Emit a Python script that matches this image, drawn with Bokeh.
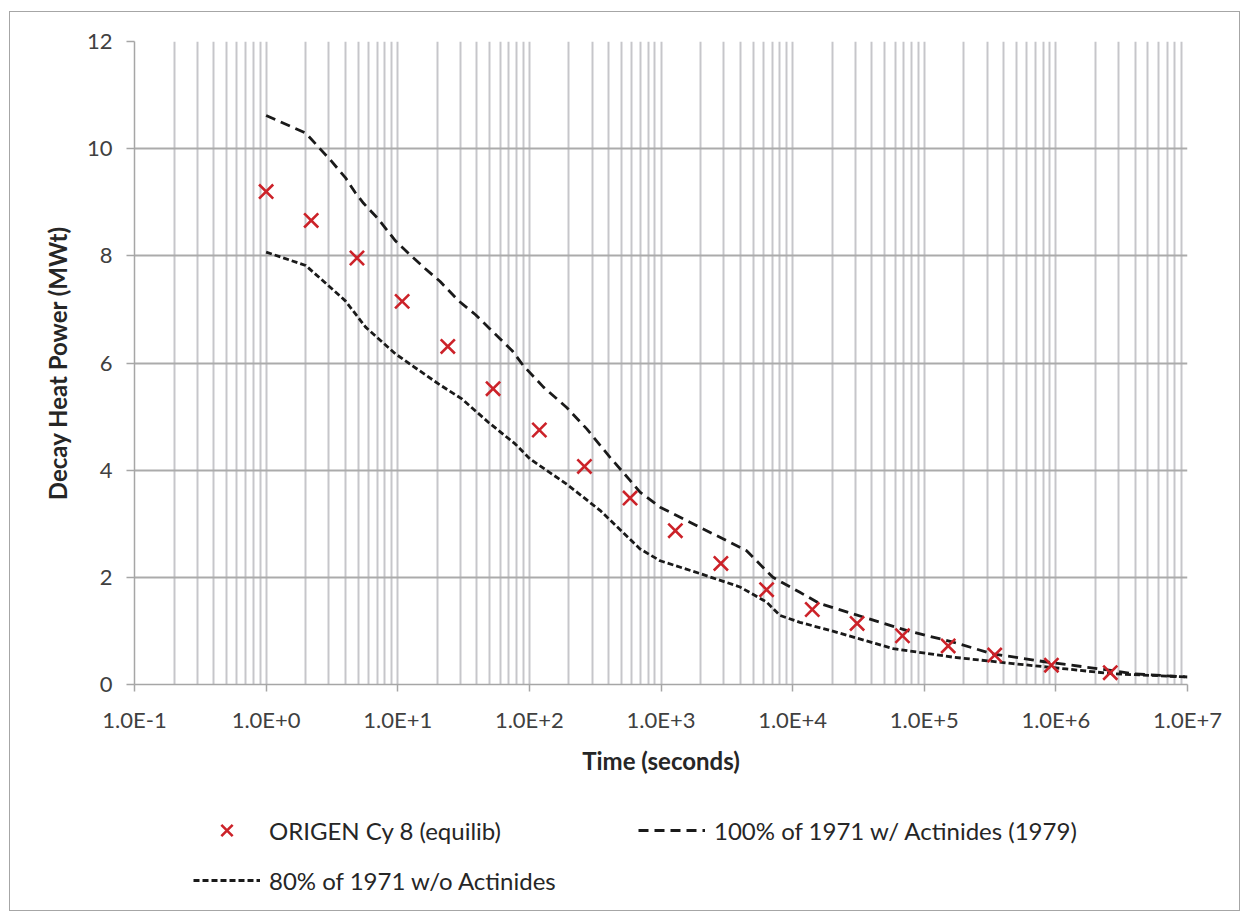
from bokeh.plotting import figure
from bokeh.layouts import column
from bokeh.models import (FixedTicker, CustomJSTickFormatter, Legend, LegendItem)
from bokeh.embed import file_html
from bokeh.resources import INLINE

# ---------------- data ----------------
origen_t = [1.0, 2.2, 4.9, 10.8, 24, 53, 119, 262, 582, 1285, 2850, 6340,
            14100, 30900, 68300, 152000, 343000, 925000, 2590000]
origen_p = [9.20, 8.66, 7.96, 7.15, 6.31, 5.52, 4.75, 4.07, 3.48, 2.87, 2.26,
            1.77, 1.40, 1.14, 0.91, 0.72, 0.55, 0.36, 0.22]

full_t = [1, 2, 2.5, 3.1, 4, 4.75, 5.5, 7.1, 9.6, 12.4, 16.2, 21, 29, 39, 50,
          74, 90, 128, 192, 273, 410, 582, 693, 984, 1570, 2490, 4450, 7080,
          11350, 16100, 34300, 73200, 165500, 333000, 847000, 2710000,
          3830000, 10000000]
full_p = [10.62, 10.29, 10.03, 9.78, 9.46, 9.18, 8.98, 8.69, 8.28, 8.02, 7.76,
          7.52, 7.16, 6.90, 6.64, 6.23, 5.95, 5.55, 5.17, 4.77, 4.24, 3.81,
          3.59, 3.31, 3.06, 2.81, 2.50, 2.00, 1.72, 1.51, 1.26, 1.01, 0.79,
          0.57, 0.42, 0.26, 0.20, 0.14]

low_t = [1, 2, 4, 5.7, 9.6, 20.4, 30.7, 49, 78, 101, 192, 344, 693, 984,
         1980, 3980, 6340, 8000, 11350, 19200, 58000, 165500, 472000,
         1200000, 2710000, 10000000]
low_p = [8.07, 7.82, 7.16, 6.67, 6.17, 5.61, 5.33, 4.89, 4.49, 4.21, 3.74,
         3.25, 2.53, 2.31, 2.07, 1.82, 1.54, 1.29, 1.16, 1.01, 0.67, 0.51,
         0.39, 0.29, 0.20, 0.14]

x_major = [1e-1, 1e0, 1e1, 1e2, 1e3, 1e4, 1e5, 1e6, 1e7]
y_major = [0, 2, 4, 6, 8, 10, 12]

label_origen = "ORIGEN Cy 8 (equilib)"
label_full = "100% of 1971 w/ Actinides (1979)"
label_low = "80% of 1971 w/o Actinides"

FONT = "Lato"
RED = "#CC2229"
INK = "#1A1A1A"
full_style = dict(line_color=INK, line_width=2.8, line_dash="10 6")
low_style = dict(line_color=INK, line_width=2.8, line_dash="6 3")
mark_style = dict(marker="x", size=20, line_color=RED, line_width=2.6)

# ---------------- main figure ----------------
p = figure(width=1229, height=772, x_axis_type="log",
           x_range=(0.1, 1e7), y_range=(0, 12),
           output_backend="svg", toolbar_location=None,
           min_border_left=124, min_border_right=52,
           min_border_top=29, min_border_bottom=100)
p.outline_line_color = None
p.background_fill_color = "white"
p.border_fill_color = "white"

minor = [m * d for d in x_major[:-1] for m in range(2, 10)]
p.xaxis.ticker = FixedTicker(ticks=x_major, minor_ticks=minor)
p.yaxis.ticker = FixedTicker(ticks=y_major)
p.xaxis.formatter = CustomJSTickFormatter(code="""
    const e = Math.round(Math.log10(tick));
    return "1.0E" + (e >= 0 ? "+" : "") + e;
""")

for ax in (p.xaxis, p.yaxis):
    ax.axis_line_color = "#A6A6A6"
    ax.axis_line_width = 1.5
    ax.major_tick_line_color = "#A6A6A6"
    ax.major_tick_line_width = 1.5
    ax.major_tick_in = 0
    ax.minor_tick_line_color = None
    ax.major_label_text_font = FONT
    ax.major_label_text_font_size = "22px"
    ax.major_label_text_color = "#404040"
    ax.axis_label_text_font = FONT
    ax.axis_label_text_font_size = "24px"
    ax.axis_label_text_font_style = "bold"
    ax.axis_label_text_color = "#262626"

p.xaxis.major_tick_out = 7
p.yaxis.major_tick_out = 8
p.xaxis.major_label_standoff = 14
p.yaxis.major_label_standoff = 14
p.xaxis.axis_label = "Time (seconds)"
p.yaxis.axis_label = "Decay Heat Power (MWt)"
p.xaxis.axis_label_standoff = 10
p.yaxis.axis_label_standoff = 12

p.xgrid.grid_line_color = "#C6C6CA"
p.xgrid.grid_line_width = 2
p.xgrid.minor_grid_line_color = "#C6C6CA"
p.xgrid.minor_grid_line_width = 2
p.ygrid.grid_line_color = "#ABABAB"
p.ygrid.grid_line_width = 2

p.line(full_t, full_p, **full_style)
p.line(low_t, low_p, **low_style)
p.scatter(origen_t, origen_p, **mark_style)

# ---------------- legend strip ----------------
lg = figure(width=1229, height=126, x_range=(0, 1), y_range=(0, 1),
            output_backend="svg", toolbar_location=None,
            x_axis_location=None, y_axis_location=None,
            min_border=0)
lg.outline_line_color = None
lg.xgrid.visible = False
lg.ygrid.visible = False
lg.background_fill_color = "white"
lg.border_fill_color = "white"
nan = float("nan")
g_or = lg.scatter(x=[nan], y=[nan], **mark_style)
g_full = lg.line(x=[nan], y=[nan], **full_style)
g_low = lg.line(x=[nan], y=[nan], **low_style)

legend = Legend(items=[LegendItem(label=label_origen, renderers=[g_or]),
                       LegendItem(label=label_full, renderers=[g_full]),
                       LegendItem(label=label_low, renderers=[g_low])],
                orientation="horizontal", ncols=2,
                location=(59, 10),
                glyph_width=67, glyph_height=40, label_height=40,
                label_width=359, label_standoff=9, spacing=10,
                padding=0, margin=0,
                border_line_color=None, background_fill_alpha=0,
                label_text_font=FONT, label_text_font_size="24px",
                label_text_color="#262626")
lg.add_layout(legend, "center")

layout = column(p, lg, spacing=0)
layout.margin = (11, 0, 0, 9)
layout.styles = {"border": "1px solid #A6A6A6", "background": "white"}

open("out.html", "w").write(file_html(layout, INLINE))
